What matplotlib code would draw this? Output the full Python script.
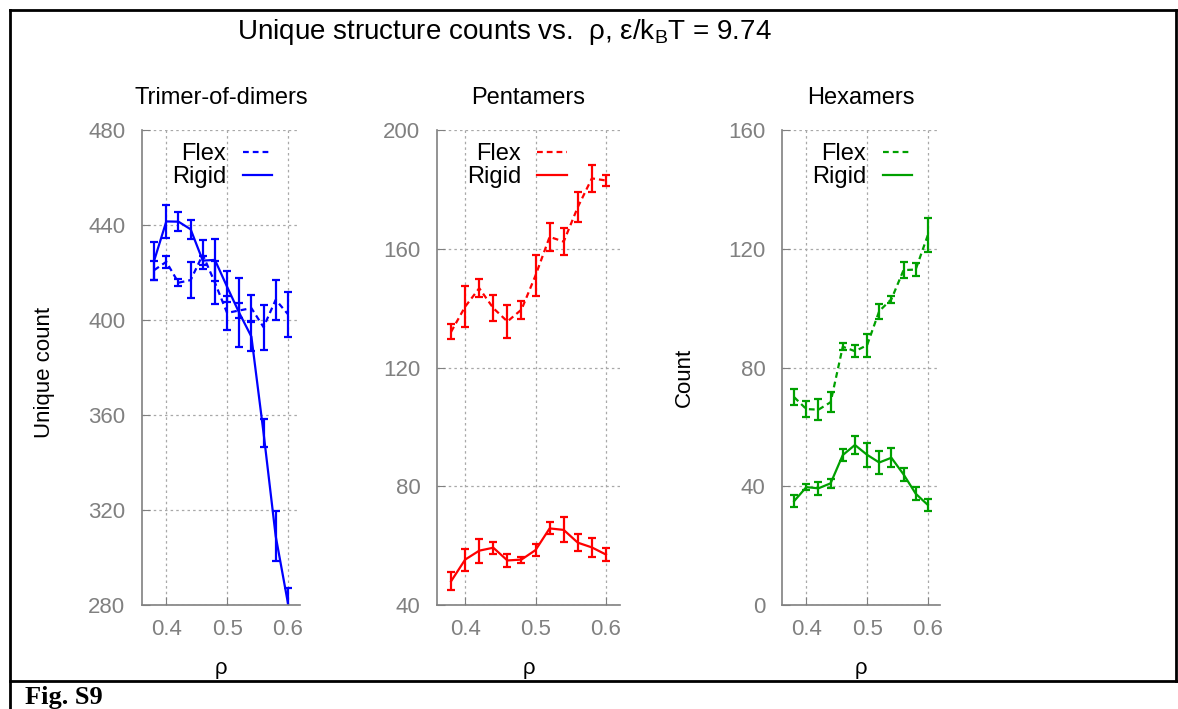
import matplotlib
matplotlib.use("Agg")
import matplotlib.pyplot as plt
from matplotlib.lines import Line2D

plt.rcParams['font.family'] = ['Liberation Sans', 'DejaVu Sans']

# Data
rho = [0.38, 0.40, 0.42, 0.44, 0.46, 0.48, 0.50, 0.52, 0.54, 0.56, 0.58, 0.60]

trimer_flex = [421, 424.5, 415.7, 416.8, 427.5, 415.7, 403, 404, 405, 397, 408.5, 402.5]
trimer_flex_err = [4, 2.5, 1.5, 7.5, 6, 9, 7, 3, 5.5, 9.5, 8.5, 9.5]
trimer_rigid = [425, 441.5, 441.4, 438.2, 425, 425.3, 414, 403, 393, 352.5, 309, 281]
trimer_rigid_err = [8, 7, 4, 4, 2, 9, 6.5, 14.5, 6, 6, 10.5, 6]

penta_flex = [132, 140.5, 146.7, 140, 135.5, 139.5, 151, 164, 162.4, 174, 183.7, 183]
penta_flex_err = [2.5, 7, 3, 4.5, 5.5, 3, 7, 4.7, 4.5, 5, 4.5, 2]
penta_rigid = [48, 55.3, 58.3, 59.3, 55, 55.3, 58.5, 65.8, 65.3, 61, 59.4, 57]
penta_rigid_err = [3, 3.7, 4, 2, 2.3, 1, 2, 2, 4.2, 2.8, 3.3, 2.1]

hexa_flex = [70, 66, 65.8, 68.3, 87, 85.5, 87.5, 99, 103, 112.8, 113, 124.6]
hexa_flex_err = [2.6, 2.6, 3.5, 3.4, 1.1, 2, 3.8, 2.5, 1.2, 2.8, 2.3, 5.6]
hexa_rigid = [35, 39.7, 39.3, 41, 50.5, 53.9, 50.6, 48, 49.6, 44, 37.5, 33.7]
hexa_rigid_err = [2, 1, 2.2, 1.6, 2, 3, 4, 4, 3.2, 2.2, 2.1, 1.9]

W, H = 1178, 709
FS = 16
GRAY = '#808080'

fig = plt.figure(figsize=(W / 100, H / 100), dpi=100)


def px_axes(left, right, top, bottom):
    return fig.add_axes([left / W, 1 - bottom / H, (right - left) / W, (bottom - top) / H])


def panel(ax, flex, flex_err, rigid, rigid_err, color, ylim, yticks, title,
          legend_x, ylabel=None, ylabel_y=0.5):
    eb1 = ax.errorbar(rho, flex, yerr=flex_err, fmt='-', color=color, lw=1.6,
                      elinewidth=1.6, capsize=3, capthick=1.6)
    eb1[0].set_dashes([2.6, 1.8])
    eb2 = ax.errorbar(rho, rigid, yerr=rigid_err, fmt='-', color=color, lw=1.6,
                      elinewidth=1.6, capsize=3, capthick=1.6)
    ax.set_xlim(0.36, 0.62)
    ax.set_ylim(*ylim)
    ax.set_xticks([0.4, 0.5, 0.6])
    ax.set_yticks(yticks)
    ax.grid(True, color='#a8a8a8', linestyle=(0, (2, 2.5)), lw=0.9)
    ax.set_axisbelow(True)
    for s in ['top', 'right']:
        ax.spines[s].set_visible(False)
    for s in ['left', 'bottom']:
        ax.spines[s].set_color(GRAY)
        ax.spines[s].set_linewidth(1.2)
    ax.tick_params(axis='both', direction='in', length=6, color=GRAY,
                   labelcolor=GRAY, labelsize=FS)
    ax.tick_params(axis='y', pad=12)
    ax.tick_params(axis='x', pad=10)
    ax.set_xlabel('ρ', fontsize=FS, va='top')
    ax.xaxis.set_label_coords(0.5, -0.112)
    if ylabel:
        ax.set_ylabel(ylabel, fontsize=FS, va='center')
        ax.yaxis.set_label_coords(-0.62, ylabel_y)
    ax.text(0.5, 1.067, title, transform=ax.transAxes, ha='center',
            va='center', fontsize=17)
    ax.legend([eb1[0], eb2[0]], ['Flex', 'Rigid'], loc='upper right',
              bbox_to_anchor=(legend_x, 0.972), frameon=False, markerfirst=False,
              fontsize=17, handlelength=1.25, handletextpad=0.7,
              labelspacing=0.02, borderpad=0, borderaxespad=0)


ax1 = px_axes(142, 300, 130, 605)
panel(ax1, trimer_flex, trimer_flex_err, trimer_rigid, trimer_rigid_err,
      '#0000ff', (280, 480), [280, 320, 360, 400, 440, 480],
      'Trimer-of-dimers', 0.823, ylabel='Unique count', ylabel_y=0.49)

ax2 = px_axes(437, 620, 130, 605)
panel(ax2, penta_flex, penta_flex_err, penta_rigid, penta_rigid_err,
      '#ff0000', (40, 200), [40, 80, 120, 160, 200],
      'Pentamers', 0.71)

ax3 = px_axes(782, 940, 130, 605)
panel(ax3, hexa_flex, hexa_flex_err, hexa_rigid, hexa_rigid_err,
      '#00a000', (0, 160), [0, 40, 80, 120, 160],
      'Hexamers', 0.823, ylabel='Count', ylabel_y=0.48)

fig.text(504 / W, 1 - 32 / H, r'Unique structure counts vs.  ρ, ε/k$_\mathregular{B}$T = 9.74',
         ha='center', va='center', fontsize=20)

# frame around the figure panel
def frame_line(x0, y0, x1, y1):
    fig.add_artist(Line2D([x0 / W, x1 / W], [1 - y0 / H, 1 - y1 / H],
                          transform=fig.transFigure, color='black', lw=2))


frame_line(10, 10, 1176, 10)
frame_line(10, 681, 1178, 681)
frame_line(10, 10, 10, 709)
frame_line(1176, 10, 1176, 681)

fig.text(25 / W, 1 - 704 / H, 'Fig. S9', fontsize=19, fontweight='bold',
         family='Liberation Serif', ha='left', va='baseline')

fig.savefig('out.png', dpi=100)
